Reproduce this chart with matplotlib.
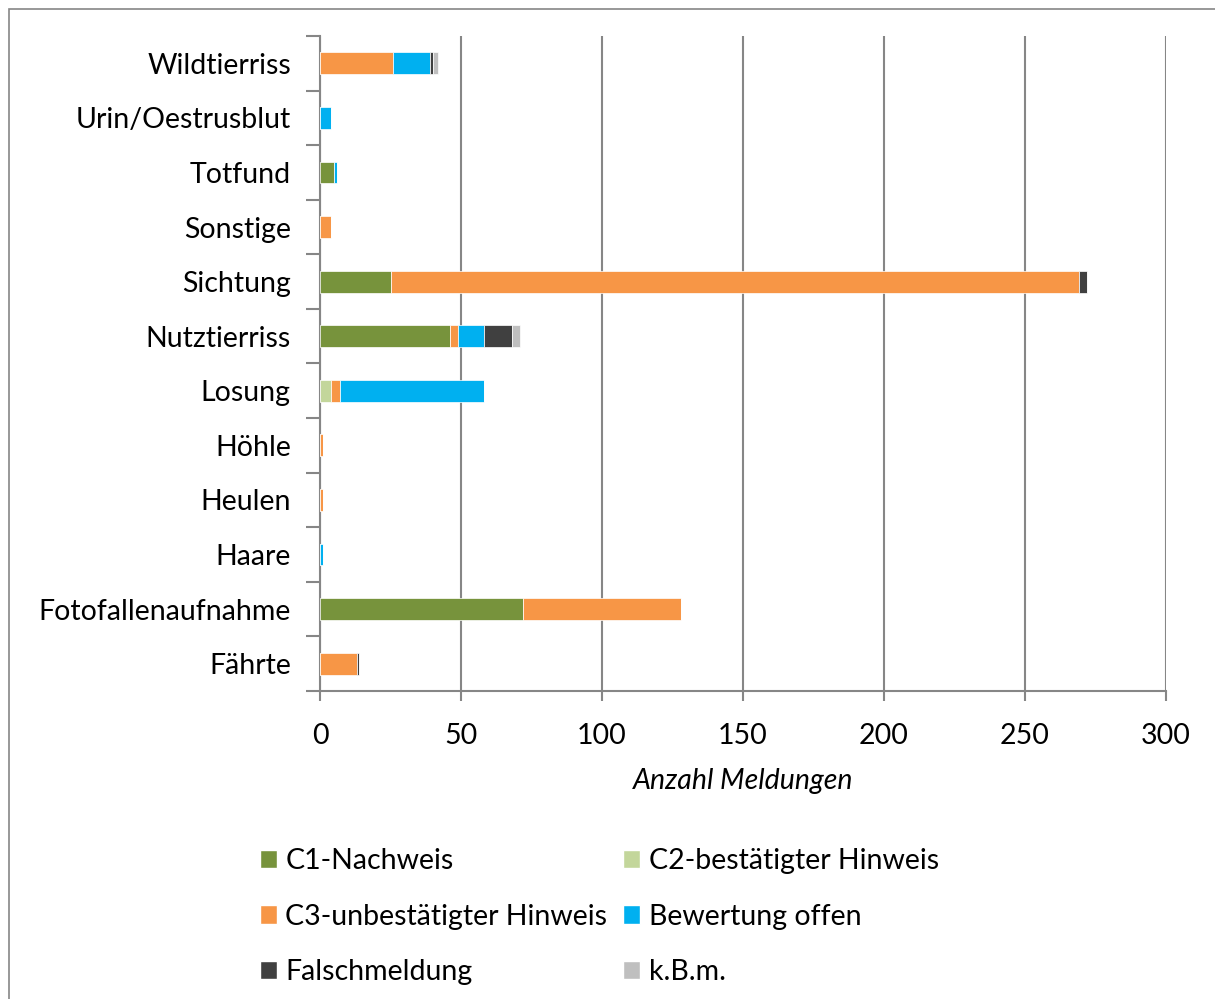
import numpy as np
import matplotlib
matplotlib.use("Agg")
import matplotlib.pyplot as plt
from matplotlib.patches import Patch, Rectangle

plt.rcParams['font.family'] = ['Lato', 'DejaVu Sans']

# categories bottom to top
categories = ["Fährte", "Fotofallenaufnahme", "Haare", "Heulen", "Höhle", "Losung",
              "Nutztierriss", "Sichtung", "Sonstige", "Totfund", "Urin/Oestrusblut", "Wildtierriss"]

c1_nachweis = [0, 72, 0, 0, 0, 0, 46, 25, 0, 5, 0, 0]
c2_bestaetigt = [0, 0, 0, 0, 0, 4, 0, 0, 0, 0, 0, 0]
c3_unbestaetigt = [13, 56, 0, 1, 1, 3, 3, 244, 4, 0, 0, 26]
bewertung_offen = [0, 0, 1, 0, 0, 51, 9, 0, 0, 1, 4, 13]
falschmeldung = [1, 0, 0, 0, 0, 0, 10, 3, 0, 0, 0, 1]
kbm = [0, 0, 0, 0, 0, 0, 3, 0, 0, 0, 0, 2]

series = [
    ("C1-Nachweis", c1_nachweis, "#77933C"),
    ("C2-bestätigter Hinweis", c2_bestaetigt, "#C3D69B"),
    ("C3-unbestätigter Hinweis", c3_unbestaetigt, "#F79646"),
    ("Bewertung offen", bewertung_offen, "#00B0F0"),
    ("Falschmeldung", falschmeldung, "#404040"),
    ("k.B.m.", kbm, "#BFBFBF"),
]

FS = 20.5
W, H = 1215, 999
fig = plt.figure(figsize=(W / 100, H / 100), dpi=100)
ax = fig.add_axes([320 / W, 1 - 691 / H, (1166 - 320) / W, (691 - 36) / H])

grey = "#868686"
y = np.arange(len(categories))
left = np.zeros(len(categories))
for name, vals, col in series:
    vals = np.array(vals, dtype=float)
    ax.barh(y, vals, left=left, height=0.4, color=col, edgecolor="white",
            linewidth=0.5, zorder=3)
    left += vals

ax.set_xlim(0, 300)
ax.set_ylim(-0.5, len(categories) - 0.5)
ax.set_xticks(np.arange(0, 301, 50))
ax.set_yticks(y)
ax.set_yticklabels(categories)
ax.set_yticks(np.arange(-0.5, len(categories)), minor=True)
ax.tick_params(axis="y", which="major", length=0, pad=21, labelsize=FS)
ax.tick_params(axis="y", which="minor", length=10, width=1.5, color=grey)
ax.tick_params(axis="x", length=7, width=1.5, color=grey, labelsize=FS, pad=16)
ax.xaxis.grid(True, color=grey, linewidth=1.5, zorder=0)
for s in ["top", "right"]:
    ax.spines[s].set_visible(False)
for s in ["left", "bottom"]:
    ax.spines[s].set_color(grey)
    ax.spines[s].set_linewidth(1.5)
ax.set_xlabel("Anzahl Meldungen", fontsize=FS, style="italic", labelpad=14)

handles = {name: Patch(facecolor=col, edgecolor="white") for name, _, col in series}
order = ["C1-Nachweis", "C3-unbestätigter Hinweis", "Falschmeldung",
         "C2-bestätigter Hinweis", "Bewertung offen", "k.B.m."]
fig.legend([handles[n] for n in order], order, ncol=2, loc="upper left",
           bbox_to_anchor=(234 / W, 1 - 822 / H), frameon=False, fontsize=FS,
           handlelength=0.6, handleheight=0.6, handletextpad=0.3,
           columnspacing=0.55, labelspacing=1.05)

fig.patches.append(Rectangle((9 / W, -0.01), 1.1, 1 - 9 / H + 0.01, transform=fig.transFigure,
                             fill=False, edgecolor=grey, linewidth=1.2))

fig.savefig("out.png", dpi=100)
